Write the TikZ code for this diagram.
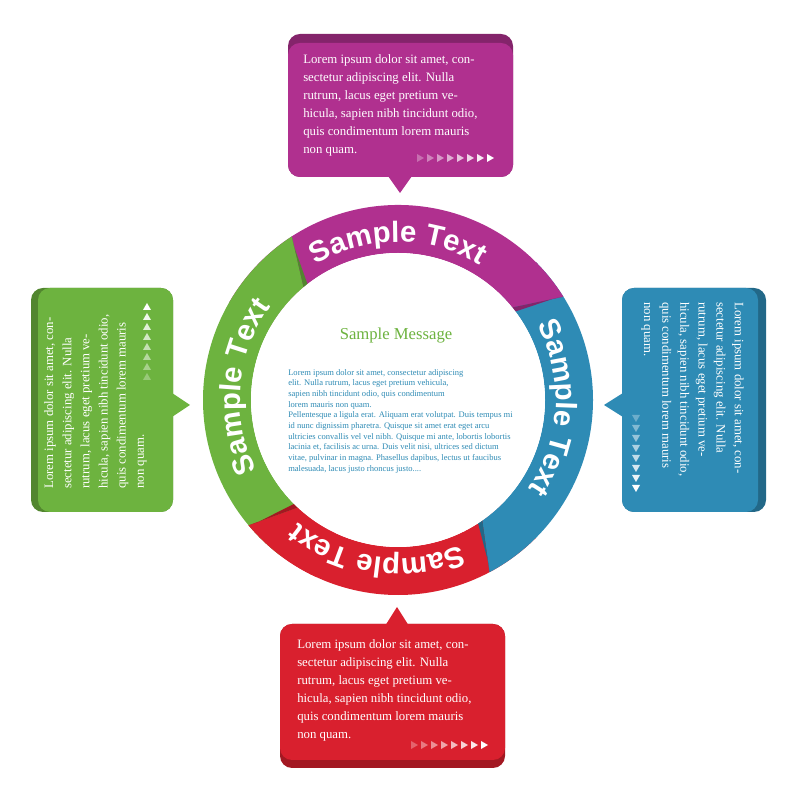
\documentclass[tikz,border=0pt]{standalone}
\usepackage{fontspec}
\setmainfont{Liberation Serif}
\newfontfamily\ringfont{Liberation Sans}
\usetikzlibrary{calc,decorations.text}
\definecolor{cmag}{HTML}{B0308F}
\definecolor{cblu}{HTML}{2E8BB5}
\definecolor{cgrn}{HTML}{6DB33F}
\definecolor{cred}{HTML}{D9202E}
\definecolor{ctxt}{HTML}{2E8BB5}
\tikzset{
  boxtext/.style={inner sep=0pt,align=left,text=white,font=\fontsize{9.6}{13.6}\selectfont},
  tri/.style={fill=white},
  ringtext/.style={decorate,decoration={text along path,text align=center,text color=white,
     text={|\ringfont\bfseries\fontsize{22}{22}\selectfont|Sample Text}}}
}
\begin{document}
\begin{tikzpicture}[x=0.75pt,y=0.75pt]
\useasboundingbox (0,0) rectangle (800,800);
\coordinate (C) at (398,400);
% ---- ring segments
\newcommand{\seg}[3]{%
 \fill[#1] ($(C)+(#2:146.25pt)$) arc[start angle=#2,end angle=#3,radius=146.25pt]
   -- ($(C)+(#3+7:110.25pt)$) arc[start angle=#3+7,end angle=#2,radius=110.25pt] -- cycle;
 \fill[#1!75!black] ($(C)+(#3:146.25pt)$) -- ($(C)+(#3+7:110.25pt)$) -- ($(C)+(#3+5:110.25pt)$) -- ($(C)+(#3+1:140pt)$) -- cycle;}
\seg{cred}{-45}{-140}
\seg{cblu}{45}{-62}
\seg{cmag}{150}{32}
\seg{cgrn}{233}{123}
\seg{cred}{-115}{-140}
\fill[white] (C) circle[radius=110.25pt];
\path[ringtext] ($(C)+(130:118.5pt)$) arc[start angle=130,end angle=50,radius=118.5pt];
\path[ringtext] ($(C)+(40:118.5pt)$) arc[start angle=40,end angle=-46,radius=118.5pt];
\path[ringtext] ($(C)+(-55:118.5pt)$) arc[start angle=-55,end angle=-141,radius=118.5pt];
\path[ringtext] ($(C)+(218:118.5pt)$) arc[start angle=218,end angle=132,radius=118.5pt];
% ---- center text
\node (msg) at (396,464) {\color{cgrn}\fontsize{12.5}{14}\selectfont Sample Message};
\node (para) [anchor=north west,inner sep=0pt,align=left,text=ctxt,font=\fontsize{6.4}{8}\selectfont] at (288,431)
{Lorem ipsum dolor sit amet, consectetur adipiscing\\
elit. Nulla rutrum, lacus eget pretium vehicula,\\
sapien nibh tincidunt odio, quis condimentum\\
lorem mauris non quam.\\
Pellentesque a ligula erat. Aliquam erat volutpat. Duis tempus mi\\
id nunc dignissim pharetra. Quisque sit amet erat eget arcu\\
ultricies convallis vel vel nibh. Quisque mi ante, lobortis lobortis\\
lacinia et, facilisis ac urna. Duis velit nisi, ultrices sed dictum\\
vitae, pulvinar in magna. Phasellus dapibus, lectus ut faucibus\\
malesuada, lacus justo rhoncus justo....};
% ---- callouts
\newcommand{\lorem}{Lorem ipsum dolor sit amet, con-\\sectetur adipiscing elit. Nulla\\rutrum, lacus eget pretium ve-\\hicula, sapien nibh tincidunt odio,\\quis condimentum lorem mauris\\non quam.}
% top magenta
\fill[cmag!75!black,rounded corners=9pt] (288,623) rectangle (513,766);
\fill[cmag,rounded corners=9pt] (288,623) rectangle (513,757);
\fill[cmag] (388,624) -- (400,607) -- (412,624) -- cycle;
\node (tbox) [boxtext,anchor=north west] at (303,746) {\lorem};
\foreach \i in {0,...,7} \fill[white,opacity=0.3+0.1*\i] (417+10*\i,638) -- (424+10*\i,642) -- (417+10*\i,646) -- cycle;
% bottom red
\fill[cred!75!black,rounded corners=9pt] (280,32) rectangle (505,176);
\fill[cred,rounded corners=9pt] (280,40) rectangle (505,176);
\fill[cred] (385,174) -- (397,193) -- (409,174) -- cycle;
\node (bbox) [boxtext,anchor=north west] at (297,161) {\lorem};
\foreach \i in {0,...,7} \fill[white,opacity=0.3+0.1*\i] (411+10*\i,51) -- (418+10*\i,55) -- (411+10*\i,59) -- cycle;
% left green
\fill[cgrn!75!black,rounded corners=9pt] (31,288) rectangle (173,512);
\fill[cgrn,rounded corners=9pt] (38,288) rectangle (173,512);
\fill[cgrn] (172,383) -- (190,395) -- (172,407) -- cycle;
\node (lbox) [boxtext,anchor=north west,rotate=90] at (44,311) {\lorem};
\foreach \i in {0,...,7} \fill[white,opacity=1-0.1*\i] (143,490-10*\i) -- (147,497-10*\i) -- (151,490-10*\i) -- cycle;
% right blue
\fill[cblu!75!black,rounded corners=9pt] (622,288) rectangle (766,512);
\fill[cblu,rounded corners=9pt] (622,288) rectangle (758,512);
\fill[cblu] (623,383) -- (604,395) -- (623,407) -- cycle;
\node (rbox) [boxtext,anchor=north west,rotate=-90] at (744,498) {\lorem};
\foreach \i in {0,...,7} \fill[white,opacity=1-0.1*\i] (632,315+10*\i) -- (636,308+10*\i) -- (640,315+10*\i) -- cycle;
\end{tikzpicture}
\end{document}
